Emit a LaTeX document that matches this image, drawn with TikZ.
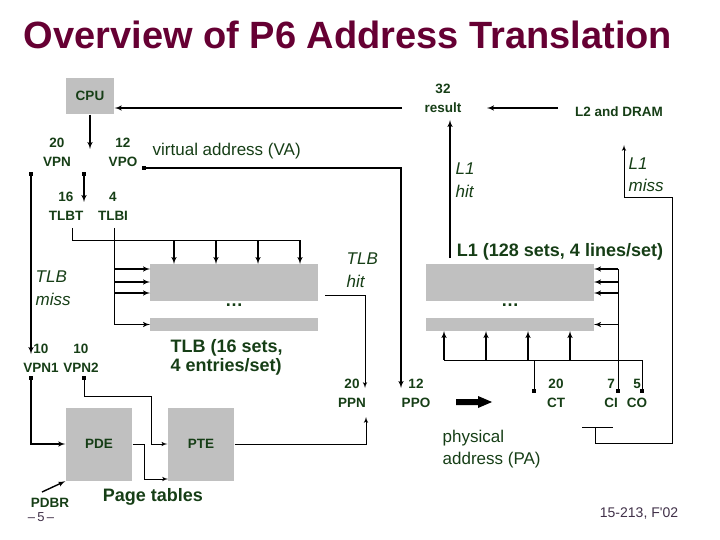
\documentclass[tikz,border=0pt]{standalone}
\usepackage{fontspec}
\setmainfont{Liberation Sans}
\usetikzlibrary{arrows,shapes,positioning}
\definecolor{labelgreen}{RGB}{22,62,22}
\definecolor{titlered}{RGB}{102,0,51}
\definecolor{panelgray}{RGB}{192,192,192}
\definecolor{footgray}{RGB}{64,48,72}

\begin{document}
\begin{tikzpicture}[x=1pt,y=-1pt,>=latex',line width=1.4pt,
    small node/.style={text=labelgreen,font=\fontsize{13.5}{19}\selectfont\bfseries,align=center,inner sep=0pt},
    note node/.style={text=labelgreen,font=\fontsize{17}{22.5}\selectfont\itshape,align=left,inner sep=0pt,anchor=west},
    text node/.style={text=labelgreen,font=\fontsize{17}{22}\selectfont,align=left,inner sep=0pt,anchor=west},
    caption node/.style={text=labelgreen,font=\fontsize{18}{19}\selectfont\bfseries,align=left,inner sep=0pt},
    gray node/.style={fill=panelgray,inner sep=0pt},
    pin node/.style={fill=black,inner sep=0pt,minimum size=4.5pt},
    thin line/.style={line width=1pt}]

\useasboundingbox (0,0) rectangle (720,540);
\node[text=titlered,font=\fontsize{38}{40}\selectfont\bfseries] (title) at (348,34.5) {Overview of P6 Address Translation};

% cpu and virtual address
\node[gray node,small node,minimum width=48pt,minimum height=36pt] (cpu) at (90,96) {CPU};
\node[small node] (result) at (443,98.5) {32\\result};
\node[small node] (dram) at (619,112) {L2 and DRAM};
\node[text node] (va) at (152,151) {virtual address (VA)};
\node[small node] (vpn) at (57,152) {20\\VPN};
\node[small node] (vpo) at (123,152) {12\\VPO};
\node[small node] (tlbt) at (66,206.5) {16\\TLBT};
\node[small node] (tlbi) at (113,206.5) {4\\TLBI};
\node[pin node] (vpnl) at (31,174) {};
\node[pin node] (vpnr) at (84,174) {};
\node[pin node] (vpopin) at (144,168) {};

% tlb
\node[gray node,minimum width=168pt,minimum height=37pt] (tlbset) at (234,282.5) {};
\node[gray node,minimum width=168pt,minimum height=13pt] (tlblast) at (234,324.5) {};
\node[caption node] (tlbdots) at (234,305) {\dots};
\node[caption node,anchor=west] (tlbcap) at (170,357.5) {TLB (16 sets,\\4 entries/set)};
\node[note node] (tlbmiss) at (35,288) {TLB\\miss};
\node[note node] (tlbhit) at (346,270) {TLB\\hit};

% page tables
\node[small node] (vpn1) at (41,358) {10\\VPN1};
\node[small node] (vpn2) at (81,358) {10\\VPN2};
\node[pin node] (vpn1pin) at (31,378) {};
\node[pin node] (vpn2pin) at (84,378) {};
\node[gray node,small node,minimum width=66pt,minimum height=73pt] (pde) at (99,444) {PDE};
\node[gray node,small node,minimum width=66pt,minimum height=73pt] (pte) at (201,444) {PTE};
\node[small node] (pdbr) at (50,503) {PDBR};
\node[caption node] (pagetables) at (153,497) {Page tables};
\node[text=footgray,font=\fontsize{13}{13}\selectfont] (slideno) at (41,517) {\textendash\,5\,\textendash};

% physical address and l1
\node[small node] (ppn) at (352,393.5) {20\\PPN};
\node[small node] (ppo) at (416,393.5) {12\\PPO};
\node[text node] (pa) at (442,449) {physical\\address (PA)};
\node[gray node,minimum width=168pt,minimum height=37pt] (l1set) at (510,282.5) {};
\node[gray node,minimum width=168pt,minimum height=13pt] (l1last) at (510,324.5) {};
\node[caption node] (l1dots) at (510,305) {\dots};
\node[caption node] (l1cap) at (560,252) {L1 (128 sets, 4 lines/set)};
\node[note node] (l1hit) at (455,180) {L1\\hit};
\node[note node] (l1miss) at (628,174.5) {L1\\miss};
\node[small node] (ct) at (556,393) {20\\CT};
\node[small node] (ci) at (611,393) {7\\CI};
\node[small node] (co) at (637,393) {5\\CO};
\node[pin node] (ctpin) at (534,391) {};
\node[pin node] (cipin) at (618,391) {};
\node[pin node] (copin) at (642,391) {};
\node[text=footgray,font=\fontsize{14}{14}\selectfont] (course) at (639,514) {15-213, F\textquotesingle 02};

\coordinate (resultwire) at (402,108);
\coordinate (dramwire) at (558,108);
\coordinate (resulttip) at (487,108);
\coordinate (vasplit) at (90,149);
\coordinate (tlbtip) at (84,202);
\coordinate (misstip) at (31,354);
\coordinate (ppotip) at (401,388);
\coordinate (tlbtfoot) at (72,228);
\coordinate (tlbifoot) at (114,228);
\coordinate (hitwire) at (325,295);
\coordinate (ppntip) at (365,388);
\coordinate (ppnfoot) at (366,417);
\coordinate (l1hitwire) at (450,258);
\coordinate (l1hittip) at (450,120);
\coordinate (missbar) at (595,427);
\coordinate (misstop) at (624,145);
\coordinate (pteturn) at (151,396);
\coordinate (pdeturn) at (144,479);
\coordinate (ptelow) at (168,479);
\coordinate (pdbrtail) at (42,492);

% top wires
\draw[->] (resultwire) -- (cpu.east |- resultwire);
\draw[->] (dramwire) -- (resulttip);
\draw[->] (cpu) -- (vasplit);
\draw[->] (vpnr.center) -- (tlbtip);
\draw[->] (vpnl.center) -- (misstip);
\draw[->] (vpopin.center) -| (ppotip);

% tlb wires
\draw[thin line] (tlbtfoot) |- (300,240);
\foreach \x in {174,216,258,300}
  \draw[->] (\x,240) -- (\x,264);
\draw[thin line] (tlbifoot) -- (114,324.5);
\foreach \y in {269,282,293,324.5}
  \draw[->] (114,\y) -- (150,\y);
\draw[->,thin line] (hitwire) -| (ppntip);

% page table wires
\draw[->] (vpn1pin.center) |- (pde.west);
\draw[->,thin line] (vpn2pin.center) |- (pteturn) |- (pte.west);
\draw[->,thin line] (pde.east) -| (pdeturn) -- (ptelow);
\draw[->] (pdbrtail) -- (pde.south west);
\draw[->,thin line] (pte.east) -| (ppnfoot);

% l1 wires
\draw[->] (l1hitwire) -- (l1hittip);
\draw[thin line] (582,427) -- (613,427);
\draw[->,thin line] (missbar) -- (595,443) -- (672,443) -- (672,198) -- (624,198) -- (misstop);
\draw[thin line] (ctpin.center) -- (534,360);
\draw[thin line] (444,360) -- (642,360) -- (copin.center);
\foreach \x in {444,486,528,570}
  \draw[->] (\x,360) -- (\x,331);
\draw[thin line] (cipin.center) -- (618,269);
\foreach \y in {269,282,293,324.5}
  \draw[->] (618,\y) -- (594,\y);

% block arrow
\fill (456,399) -- (478,399) -- (478,396) -- (492,402) -- (478,408) -- (478,405) -- (456,405) -- cycle;
\end{tikzpicture}
\end{document}
